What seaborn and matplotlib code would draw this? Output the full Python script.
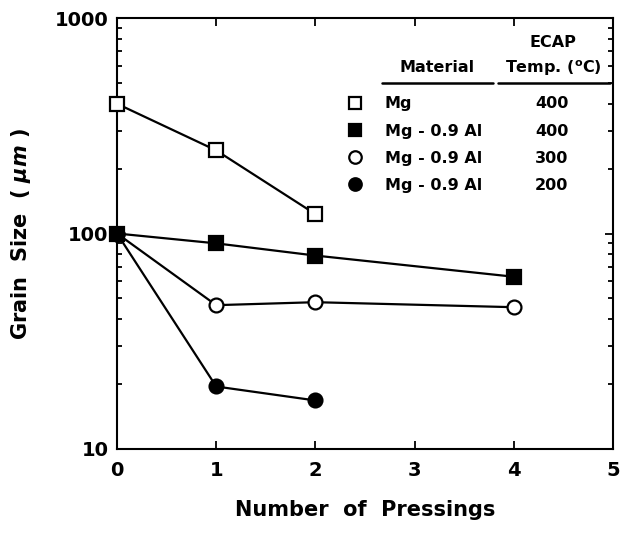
import numpy as np
import pandas as pd
import seaborn as sns
import matplotlib.pyplot as plt
from matplotlib.lines import Line2D
import matplotlib.ticker as ticker

# data
pressings_mg = [0, 1, 2]
grain_mg_400 = [400, 243, 123]

pressings_al_400 = [0, 1, 2, 4]
grain_al_400 = [100, 90, 79, 63]

pressings_al_300 = [0, 1, 2, 4]
grain_al_300 = [100, 46.5, 48, 45.5]

pressings_al_200 = [0, 1, 2]
grain_al_200 = [100, 19.5, 16.8]

materials = ["Mg", "Mg - 0.9 Al", "Mg - 0.9 Al", "Mg - 0.9 Al"]
temps = ["400", "400", "300", "200"]

sns.set_style("ticks")
plt.rcParams["font.family"] = ["DejaVu Sans"]
plt.rcParams["font.weight"] = "bold"
plt.rcParams["mathtext.fontset"] = "custom"
plt.rcParams["mathtext.rm"] = "DejaVu Sans:bold"
plt.rcParams["mathtext.it"] = "DejaVu Sans:italic:bold"
for k in ["text.color", "axes.labelcolor", "xtick.color", "ytick.color", "axes.edgecolor"]:
    plt.rcParams[k] = "black"

fig = plt.figure(figsize=(6.26, 5.36), dpi=100)
ax = fig.add_axes([117/626, 1 - 449/536, (613-117)/626, (449-18)/536])

series = [
    (pressings_mg, grain_mg_400, "s", "white"),
    (pressings_al_400, grain_al_400, "s", "black"),
    (pressings_al_300, grain_al_300, "o", "white"),
    (pressings_al_200, grain_al_200, "o", "black"),
]

for xs, ys, mk, fc in series:
    df = pd.DataFrame({"n": xs, "d": ys})
    sns.lineplot(data=df, x="n", y="d", ax=ax, color="black", lw=1.6,
                 marker=mk, markersize=10, markerfacecolor=fc,
                 markeredgecolor="black", markeredgewidth=1.6, clip_on=False,
                 zorder=3)

ax.set_yscale("log")
ax.set_xlim(0, 5)
ax.set_ylim(10, 1000)
ax.xaxis.set_major_locator(ticker.MultipleLocator(1))
ax.yaxis.set_major_locator(ticker.LogLocator(base=10, numticks=5))
ax.yaxis.set_minor_locator(ticker.LogLocator(base=10, subs=np.arange(2, 10), numticks=20))
ax.yaxis.set_major_formatter(ticker.FuncFormatter(lambda v, p: f"{int(v)}"))
ax.yaxis.set_minor_formatter(ticker.NullFormatter())

ax.tick_params(which="both", direction="in", top=True, right=True, width=1.3)
ax.tick_params(which="major", length=6)
ax.tick_params(which="minor", length=3.5)
ax.tick_params(axis="x", labelsize=14, pad=9)
ax.tick_params(axis="y", labelsize=14, pad=6)
for sp in ax.spines.values():
    sp.set_linewidth(1.5)
    sp.set_visible(True)

ax.set_xlabel("Number  of  Pressings", fontsize=15, fontweight="bold", labelpad=14)
ax.set_ylabel("Grain  Size  ( $\\mu m$ )", fontsize=15, fontweight="bold", labelpad=16)

# legend laid out as a small table
handles = [Line2D([], [], ls="none", marker=mk, markersize=9, markerfacecolor=fc,
                  markeredgecolor="black", markeredgewidth=1.6)
           for _, _, mk, fc in series]
blanks = [Line2D([], [], ls="none") for _ in temps]
ax.legend(handles=handles + blanks, labels=materials + temps, ncol=2,
          frameon=False, loc="upper left", bbox_to_anchor=(0.463, 0.818),
          borderaxespad=0, borderpad=0, fontsize=11.5, handlelength=1.0,
          handletextpad=1.4, columnspacing=0.9, labelspacing=0.76)

ax.text(0.645, 0.884, "Material", transform=ax.transAxes, ha="center",
        va="center", fontsize=11.5, fontweight="bold")
ax.text(0.879, 0.944, "ECAP", transform=ax.transAxes, ha="center",
        va="center", fontsize=11.5, fontweight="bold")
ax.text(0.879, 0.884, "Temp. ($^{\\mathrm{o}}$C)", transform=ax.transAxes,
        ha="center", va="center", fontsize=11.5, fontweight="bold")
ax.plot([0.534, 0.758], [0.849, 0.849], transform=ax.transAxes, color="black",
        lw=1.8, clip_on=False)
ax.plot([0.768, 0.994], [0.849, 0.849], transform=ax.transAxes, color="black",
        lw=1.8, clip_on=False)

fig.savefig("out.png", dpi=100)
